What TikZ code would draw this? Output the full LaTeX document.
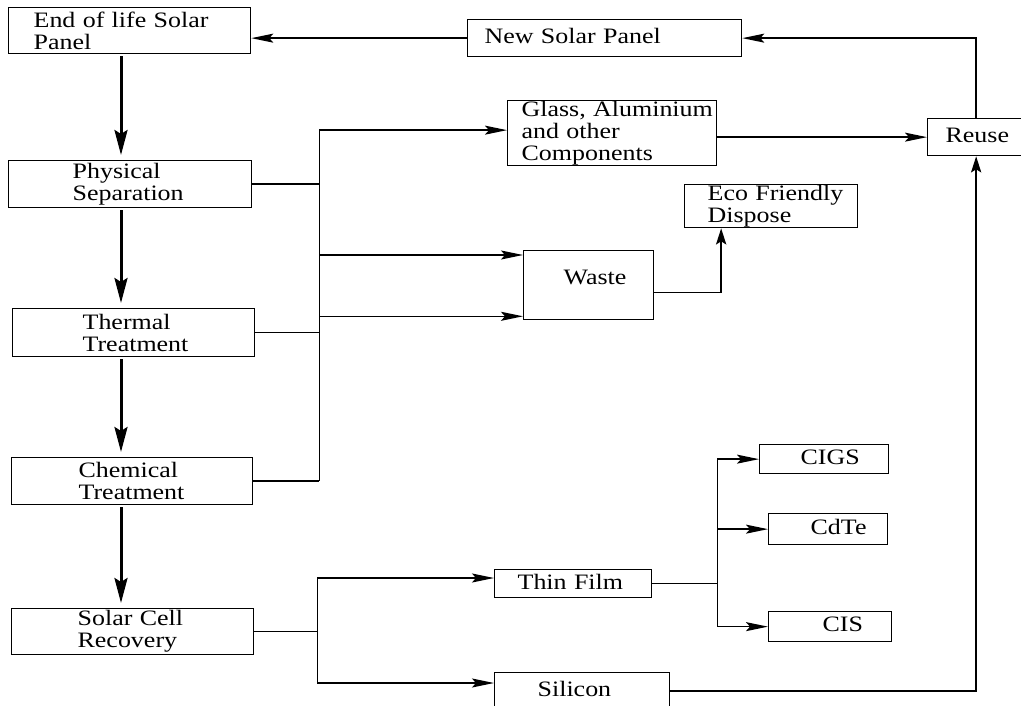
\documentclass[tikz,border=0pt]{standalone}
\usepackage{fontspec}
\setmainfont{Liberation Serif}[FakeStretch=1.18]
\usetikzlibrary{arrows.meta}
\begin{document}
\begin{tikzpicture}[x=1pt,y=-1pt,line width=1.5pt,
  every node/.style={font=\fontsize{22}{22}\selectfont},
  blk/.style={draw,line width=1.3pt,anchor=north west,align=left,inner ysep=0pt},
  one/.style={blk,text depth=4pt},
  arr/.style={-{Stealth[length=22pt,width=9pt,inset=4pt]}},
  flow/.style={line width=3pt,shorten <=2pt,shorten >=5pt,-{Stealth[length=25pt,width=13pt,inset=4pt]}},
  up/.style={line width=2.6pt,-{Stealth[length=16pt,width=10pt,inset=3pt]}}]
\useasboundingbox (0,0) rectangle (1021,706);
\node[blk,minimum width=242pt,minimum height=46pt,inner xsep=25pt,text width=192pt] (eol) at (8,7) {\mbox{End of life Solar}\\Panel};
\node[blk,minimum width=243pt,minimum height=47pt,inner xsep=64pt,text width=115pt] (ps) at (8,160) {Physical\\\mbox{Separation}};
\node[blk,minimum width=242pt,minimum height=48pt,inner xsep=70pt,text width=102pt] (thermal) at (12,308) {Thermal\\\mbox{Treatment}};
\node[blk,minimum width=241pt,minimum height=47pt,inner xsep=67pt,text width=107pt] (chem) at (11,457) {Chemical\\\mbox{Treatment}};
\node[blk,minimum width=242pt,minimum height=46pt,inner xsep=66pt,text width=110pt] (scr) at (11,608) {\mbox{Solar Cell}\\Recovery};
\node[one,minimum width=274pt,minimum height=37pt,inner xsep=17pt,text width=240pt] (nsp) at (467,19) {\mbox{New Solar Panel}};
\node[blk,minimum width=209pt,minimum height=65pt,inner xsep=14pt,text width=181pt] (glass) at (507,100) {\mbox{Glass, Aluminium}\\and other\\\mbox{Components}};
\node[one,minimum width=97pt,minimum height=37pt,inner xsep=18pt,text width=61pt] (reuse) at (927,118) {Reuse};
\node[blk,minimum width=173pt,minimum height=43pt,inner xsep=23pt,text width=127pt] (eco) at (684,184) {\mbox{Eco Friendly}\\Dispose};
\node[one,minimum width=130pt,minimum height=69pt,inner xsep=40pt,text width=50pt,text depth=15pt] (waste) at (523,250) {Waste};
\node[one,minimum width=157pt,minimum height=28pt,inner xsep=23pt,text width=111pt] (thin) at (494,569) {\mbox{Thin Film}};
\node[one,minimum width=175pt,minimum height=36pt,inner xsep=43pt,text width=89pt] (silicon) at (494,672) {Silicon};
\node[one,minimum width=129pt,minimum height=29pt,inner xsep=41pt,text width=47pt] (cigs) at (759,444) {CIGS};
\node[one,minimum width=119pt,minimum height=31pt,inner xsep=42pt,text width=35pt] (cdte) at (768,513) {CdTe};
\node[one,minimum width=123pt,minimum height=30pt,inner xsep=54pt,text width=15pt] (cis) at (768,611) {CIS};
% main column
\coordinate (spine) at (121,0);
\draw[flow] (eol.south -| spine) -- (ps.north -| spine);
\draw[flow] (ps.south -| spine) -- (thermal.north -| spine);
\draw[flow] (thermal.south -| spine) -- (chem.north -| spine);
\draw[flow] (chem.south -| spine) -- (scr.north -| spine);
% separation outputs
\coordinate (bus1) at ([xshift=67pt]ps.east);
\coordinate (gin) at ([yshift=3pt]glass.west);
\coordinate (win1) at ([yshift=-5pt]waste.north west);
\coordinate (win2) at ([yshift=4pt]waste.south west);
\draw (ps.east) -- (bus1);
\draw (gin -| bus1) -- (chem.east -| bus1);
\draw (thermal.east) -- (thermal.east -| bus1);
\draw (chem.east) -- (chem.east -| bus1);
\draw[arr] (gin -| bus1) -- (gin);
\draw[arr] (win1 -| bus1) -- (win1);
\draw[arr] (win2 -| bus1) -- (win2);
\coordinate (wout) at ([yshift=-7.5pt]waste.east);
\coordinate (ein) at ([xshift=-50pt]eco.south);
\draw (wout) -- (wout -| ein);
\draw[up] (wout -| ein) -- (ein);
% reuse loop
\draw[arr] (glass.east |- reuse.west) -- (reuse.west);
\draw[arr] (reuse.north) |- (nsp.east);
\draw[arr] (nsp.west) -- (nsp.west -| eol.east);
\draw[up,line width=2.2pt] (silicon.east) -| (reuse.south);
% cell recovery
\coordinate (bus2) at ([xshift=63pt]scr.east);
\coordinate (tin) at ([yshift=-9pt]thin.north west);
\coordinate (sin) at ([yshift=-11pt]silicon.north west);
\draw (scr.east) -- (bus2);
\draw (tin -| bus2) -- (sin -| bus2);
\draw[arr] (tin -| bus2) -- (tin);
\draw[arr] (sin -| bus2) -- (sin);
\coordinate (bus3) at ([xshift=65pt]thin.east);
\draw (thin.east) -- (bus3);
\draw (bus3 |- cigs.west) -- (bus3 |- cis.west);
\foreach \n in {cigs,cdte,cis}
  \draw[arr] (bus3 |- \n.west) -- (\n.west);
\end{tikzpicture}
\end{document}
